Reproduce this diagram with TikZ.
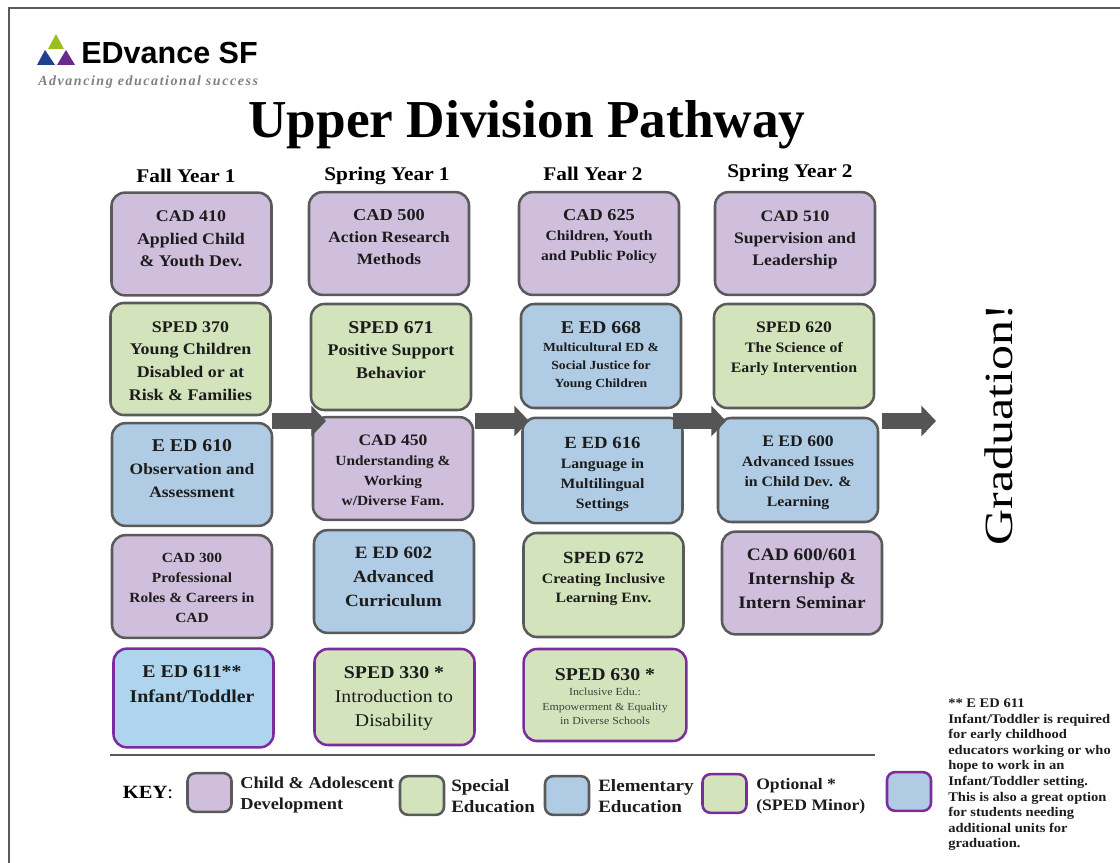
\documentclass[tikz,border=0pt]{standalone}
\usepackage{fontspec}
\setmainfont{Liberation Serif}
\newfontfamily\logofont{Liberation Sans}
\newfontfamily\tagfont[LetterSpace=11]{Liberation Serif}
\newfontfamily\wideserif[FakeStretch=1.1]{Liberation Serif}
\newfontfamily\gradfont[FakeStretch=1.25]{Liberation Serif}
\usetikzlibrary{arrows.meta,calc}
\newcommand{\sz}[2]{\fontsize{#1}{#2}\selectfont}
\definecolor{cadfill}{HTML}{CFBFDC}
\definecolor{spedfill}{HTML}{D3E4BC}
\definecolor{eedfill}{HTML}{B0CCE4}
\definecolor{infantfill}{HTML}{AED4EE}
\definecolor{edgegray}{HTML}{5A5A5A}
\definecolor{optpurple}{HTML}{7B2D9E}
\definecolor{inkdark}{HTML}{1C1C1C}
\definecolor{logogreen}{HTML}{9BBF1F}
\definecolor{logoblue}{HTML}{1F3F8F}
\definecolor{logopurple}{HTML}{6A2A8C}
\tikzset{
  course/.style={rounded corners=10pt,line width=1.9pt,draw=edgegray,minimum width=120pt,minimum height=77pt,inner sep=0pt,outer sep=0pt},
  cadbox/.style={course,fill=cadfill},
  spedbox/.style={course,fill=spedfill},
  eedbox/.style={course,fill=eedfill},
  optbox/.style={course,draw=optpurple},
  swatch/.style={rounded corners=6pt,line width=1.9pt,draw=edgegray,minimum width=33pt,minimum height=29pt,inner sep=0pt,outer sep=0pt},
  boxtext/.style={align=center,text=inkdark,inner sep=0pt,font=\wideserif\bfseries\sz{12.2}{17}},
  header/.style={inner sep=0pt,text=black,font=\wideserif\bfseries\sz{14.5}{17}},
  keytext/.style={align=left,anchor=west,inner sep=0pt,text=inkdark,font=\wideserif\bfseries\sz{12.5}{15.5}},
  pathway/.style={line width=11.5pt,color=edgegray!95!black,-{Triangle[length=11pt,width=22.5pt]}}
}
\begin{document}
\begin{tikzpicture}[x=0.75pt,y=-0.75pt]
\useasboundingbox (0,0) rectangle (1120,863);

% frame
\coordinate (framea) at (9,863);
\coordinate (frameb) at (9,8);
\coordinate (framec) at (1120,8);
\draw[line width=1pt,edgegray] (framea) -- (frameb) -- (framec);

% logo
\fill[logogreen] (56,34) -- (64,49) -- (48,49) -- cycle;
\fill[logoblue] (45,50) -- (55,65) -- (37,65) -- cycle;
\fill[logopurple] (66,50) -- (75,65) -- (57,65) -- cycle;
\node[inner sep=0pt,anchor=west,font=\logofont\bfseries\sz{22.9}{24}] (logo) at (81,53) {EDvance SF};
\node[inner sep=0pt,anchor=west,text=black!50,font=\tagfont\bfseries\itshape\sz{10.5}{12}] (tagline) at (38,82) {Advancing educational success};

\node[inner sep=0pt,font=\bfseries\sz{40}{44}] (title) at (527,125) {Upper Division Pathway};

% column heads
\node[header] (fallone) at (186,176) {Fall Year 1};
\node[header] (springone) at (387,175.5) {Spring Year 1};
\node[header] (falltwo) at (593,174) {Fall Year 2};
\node[header] (springtwo) at (790,172.5) {Spring Year 2};

% fall year 1
\node[cadbox] (cad410) at (191.5,244) {};
\node[boxtext] (cad410t) at (191,239) {CAD 410\\Applied Child\\\& Youth Dev.};
\node[spedbox,minimum height=84pt] (sped370) at (190.5,359) {};
\node[boxtext] (sped370t) at (190.5,361) {SPED 370\\Young Children\\Disabled or at\\Risk \& Families};
\node[eedbox] (eed610) at (192,474.5) {};
\node[boxtext,font=\wideserif\bfseries\sz{11.9}{17}] (eed610t) at (192,468.5) {{\sz{13.5}{17}E ED 610}\\Observation and\\Assessment};
\node[cadbox] (cad300) at (192,586.5) {};
\node[boxtext,font=\wideserif\bfseries\sz{10.5}{15}] (cad300t) at (192,588) {CAD 300\\Professional\\Roles \& Careers in\\CAD};
\node[course,fill=infantfill,draw=optpurple,minimum height=74pt] (eed611) at (193.5,698) {};
\node[boxtext,font=\wideserif\bfseries\sz{13.5}{18.5}] (eed611t) at (192,684) {E ED 611**\\Infant/Toddler};

% spring year 1
\node[cadbox] (cad500) at (389,243.5) {};
\node[boxtext,font=\wideserif\bfseries\sz{11.8}{16.5}] (cad500t) at (389,237.5) {{\sz{12.5}{17}CAD 500}\\Action Research\\Methods};
\node[spedbox,minimum height=79.5pt] (sped671) at (391,357) {};
\node[boxtext] (sped671t) at (391,350) {{\sz{13.5}{17}SPED 671}\\Positive Support\\Behavior};
\node[cadbox] (cad450) at (393,468.5) {};
\node[boxtext,font=\wideserif\bfseries\sz{10.5}{15}] (cad450t) at (393,470) {{\sz{12}{16}CAD 450}\\Understanding \&\\Working\\w/Diverse Fam.};
\node[eedbox] (eed602) at (394,581.5) {};
\node[boxtext,font=\wideserif\bfseries\sz{12.9}{18}] (eed602t) at (393.5,577) {{\sz{13}{18}E ED 602}\\Advanced\\Curriculum};
\node[optbox,fill=spedfill,minimum height=72pt] (sped330) at (394.5,697) {};
\node[boxtext,font=\wideserif\sz{13.5}{18}] (sped330t) at (394,698) {{\bfseries SPED 330 *}\\Introduction to\\Disability};

% fall year 2
\node[cadbox] (cad625) at (599,243.5) {};
\node[boxtext,font=\wideserif\bfseries\sz{10.6}{15}] (cad625t) at (599,237) {{\sz{12.5}{16.5}CAD 625}\\Children, Youth\\and Public Policy};
\node[eedbox,minimum height=78pt] (eed668) at (601,356) {};
\node[boxtext,font=\wideserif\bfseries\sz{9.3}{13.5}] (eed668t) at (601,356) {{\sz{13.5}{16}E ED 668}\\Multicultural ED \&\\Social Justice for\\Young Children};
\node[eedbox,minimum height=79pt] (eed616) at (602.5,470.5) {};
\node[boxtext,font=\wideserif\bfseries\sz{10.7}{15}] (eed616t) at (602.5,474) {{\sz{12.8}{16.5}E ED 616}\\Language in\\Multilingual\\Settings};
\node[spedbox,minimum height=78pt] (sped672) at (603.5,585) {};
\node[boxtext,font=\wideserif\bfseries\sz{10.7}{14.5}] (sped672t) at (603.5,579) {{\sz{12.8}{16.5}SPED 672}\\Creating Inclusive\\Learning Env.};
\node[optbox,fill=spedfill,minimum width=122pt,minimum height=69pt] (sped630) at (605,695) {};
\node[boxtext,text=black!75,font=\wideserif\sz{8.1}{11}] (sped630t) at (605,697) {{\color{inkdark}\bfseries\sz{13.5}{14}SPED 630 *}\\Inclusive Edu.:\\Empowerment \& Equality\\in Diverse Schools};

% spring year 2
\node[cadbox] (cad510) at (795,243.5) {};
\node[boxtext,font=\wideserif\bfseries\sz{12}{16.5}] (cad510t) at (795,240) {CAD 510\\Supervision and\\Leadership};
\node[spedbox,minimum height=78pt] (sped620) at (794,356) {};
\node[boxtext,font=\wideserif\bfseries\sz{10.8}{15}] (sped620t) at (794,349) {{\sz{12}{16}SPED 620}\\The Science of\\Early Intervention};
\node[eedbox,minimum height=78pt] (eed600) at (798,470) {};
\node[boxtext,font=\wideserif\bfseries\sz{10.8}{15}] (eed600t) at (798,473) {{\sz{12}{15.5}E ED 600}\\Advanced Issues\\in Child Dev. \&\\Learning};
\node[cadbox] (cad600) at (802,583) {};
\node[boxtext,font=\wideserif\bfseries\sz{13.2}{18}] (cad600t) at (802,579) {CAD 600/601\\Internship \&\\Intern Seminar};

% arrows between terms
\coordinate (stepa) at (272,421);
\coordinate (stepb) at (326,421);
\coordinate (stepc) at (475,421);
\coordinate (stepd) at (529,421);
\coordinate (stepe) at (673,421);
\coordinate (stepf) at (726,421);
\coordinate (stepg) at (882,421);
\coordinate (steph) at (936,421);
\draw[pathway] (stepa) -- (stepb);
\draw[pathway] (stepc) -- (stepd);
\draw[pathway] (stepe) -- (stepf);
\draw[pathway] (stepg) -- (steph);

\node[rotate=90,inner sep=0pt,font=\gradfont\sz{30}{34}] (grad) at (999,424.5) {Graduation!};

% key
\coordinate (rulea) at (110,755);
\coordinate (ruleb) at (875,755);
\draw[line width=1.3pt,edgegray] (rulea) -- (ruleb);
\node[inner sep=0pt,font=\wideserif\sz{14}{18}] (keyword) at (148,793) {\textbf{KEY}:};
\node[swatch,fill=cadfill] (keycad) at (209.5,792.5) {};
\node[keytext] (keycadt) at (240,795) {Child \& Adolescent\\Development};
\node[swatch,fill=spedfill] (keysped) at (422,795.5) {};
\node[keytext,font=\wideserif\bfseries\sz{13}{15.5}] (keyspedt) at (451,796) {Special\\Education};
\node[swatch,fill=eedfill] (keyeed) at (567,795.5) {};
\node[keytext,font=\wideserif\bfseries\sz{13}{15.5}] (keyeedt) at (598,796) {Elementary\\Education};
\node[swatch,fill=spedfill,draw=optpurple] (keyopt) at (724.5,793.5) {};
\node[keytext,font=\wideserif\bfseries\sz{12}{15.5}] (keyoptt) at (756,796) {Optional *\\(SPED Minor)};
\node[swatch,fill=eedfill,draw=optpurple] (keyinf) at (909,791.5) {};
\node[inner sep=0pt,anchor=north west,align=left,text=inkdark,font=\wideserif\bfseries\sz{9.9}{11.7}] (keynote) at (948,698.5) {** E ED 611\\Infant/Toddler is required\\for early childhood\\educators working or who\\hope to work in an\\Infant/Toddler setting.\\This is also a great option\\for students needing\\additional units for\\graduation.};
\end{tikzpicture}
\end{document}
